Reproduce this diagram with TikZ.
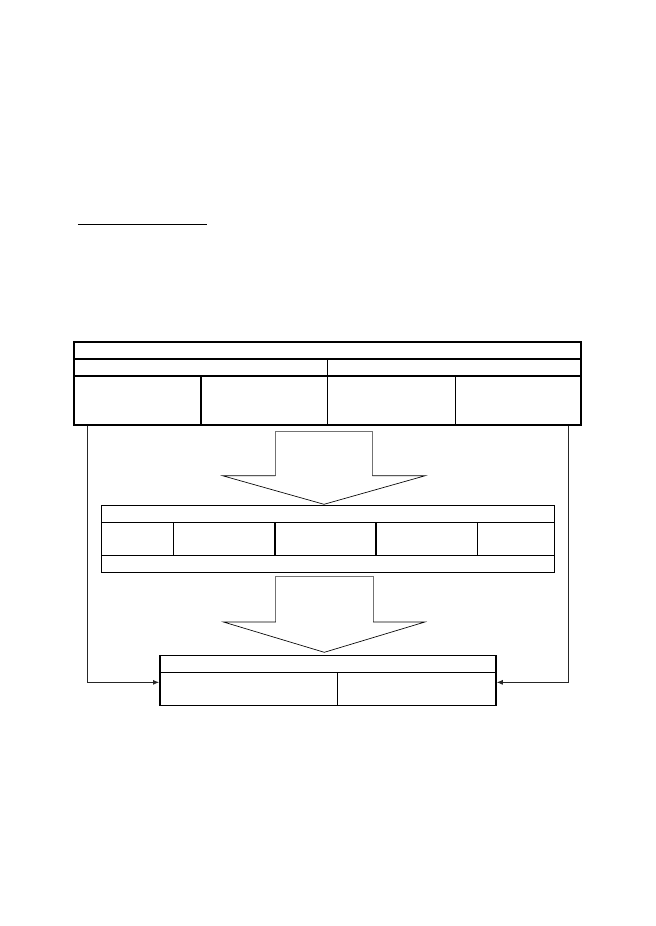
\documentclass[tikz,border=0pt]{standalone}
\usetikzlibrary{fit,arrows.meta}
\tikzset{
  thinln/.style={line width=0.6pt},
  thickln/.style={line width=1.3pt},
  tablebox/.style={draw, inner sep=0pt, fit=#1},
  shaftln/.style={line width=0.7pt, draw=black!55},
  headln/.style={line width=0.6pt, draw=black},
  sideconn/.style={line width=0.7pt, draw=black!85, -{Latex[length=5.5pt,width=4.5pt]}}
}
\begin{document}
\begin{tikzpicture}[x=0.9093pt,y=-0.9093pt]
\useasboundingbox (0,0) rectangle (655,926);
% underline
\coordinate (u1) at (77.9,224);
\coordinate (u2) at (207,224);
\draw[line width=0.8pt] (u1) -- (u2);

% ---------- top table ----------
\coordinate (Tnw) at (74,342);
\coordinate (Tse) at (581,425);
\node[tablebox={(Tnw)(Tse)}, thickln] (T) {};
\draw[thickln] (74,359) -- (581,359);
\draw[thickln] (74,376) -- (581,376);
\draw[thinln] (327.5,359) -- (327.5,425);
\draw[thickln] (201,376) -- (201,425);
\draw[thinln] (455,376) -- (455,425);

% ---------- arrow 1 ----------
\coordinate (a1) at (275.3,431.7);
\coordinate (a2) at (372.4,431.7);
\coordinate (a3) at (372.4,475.7);
\coordinate (a4) at (425.3,475.7);
\coordinate (a5) at (324,504.3);
\coordinate (a6) at (222.5,475.7);
\coordinate (a7) at (275.3,475.7);
\draw[shaftln] (a7) -- (a1) -- (a2) -- (a3);
\draw[headln, line join=miter] (a3) -- (a4) -- (a5) -- (a6) -- (a7);

% ---------- middle table ----------
\coordinate (Mnw) at (101.5,505.7);
\coordinate (Mse) at (554.2,572.3);
\node[tablebox={(Mnw)(Mse)}, thinln] (M) {};
\draw[thinln] (101.5,522.5) -- (554.2,522.5);
\draw[thickln] (101.5,555.7) -- (554.2,555.7);
\draw[thinln] (173.3,522.5) -- (173.3,555.7);
\draw[thickln] (275,522.5) -- (275,555.7);
\draw[thickln] (376,522.5) -- (376,555.7);
\draw[thinln] (477.5,522.5) -- (477.5,555.7);

% ---------- arrow 2 ----------
\coordinate (b1) at (275.8,576);
\coordinate (b2) at (373.2,576);
\coordinate (b3) at (373.2,622);
\coordinate (b4) at (424.9,622);
\coordinate (b5) at (324.3,652.3);
\coordinate (b6) at (223.5,622);
\coordinate (b7) at (275.8,622);
\draw[shaftln] (b7) -- (b1) -- (b2) -- (b3);
\draw[headln, line join=miter] (b3) -- (b4) -- (b5) -- (b6) -- (b7);

% ---------- bottom table ----------
\coordinate (Bnw) at (159.8,655.7);
\coordinate (Bse) at (496,705.7);
\node[tablebox={(Bnw)(Bse)}, thickln] (B) {};
\draw[thinln] (159.8,672.3) -- (496,672.3);
\draw[thinln] (337.2,672.3) -- (337.2,705.7);

% ---------- side connectors ----------
\coordinate (L0) at (87.3,426);
\coordinate (R0) at (568,426);
\draw[sideconn] (L0) |- ([yshift=-1.5pt]B.west);
\draw[sideconn] (R0) |- ([yshift=-1.5pt]B.east);
\end{tikzpicture}
\end{document}
